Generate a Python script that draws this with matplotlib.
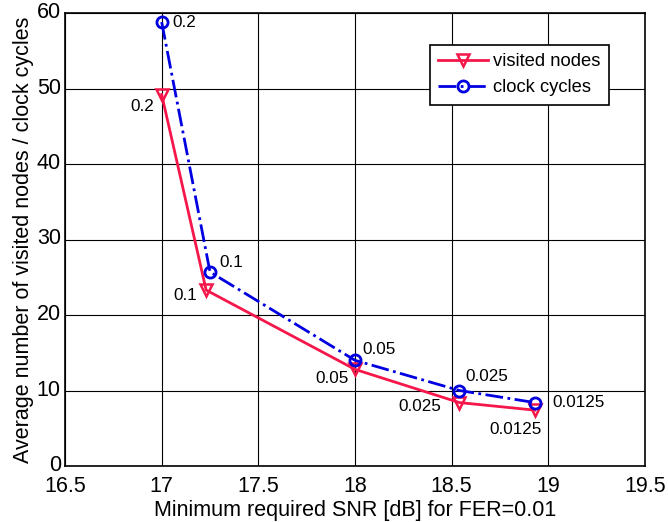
import matplotlib
matplotlib.use("Agg")
import matplotlib.pyplot as plt
from matplotlib.transforms import ScaledTranslation

plt.rcParams['font.family'] = ['Liberation Sans', 'DejaVu Sans']

snr_nodes = [17.0, 17.23, 18.0, 18.54, 18.93]
visited_nodes = [49.2, 23.3, 12.8, 8.4, 7.4]
snr_cycles = [17.0, 17.25, 18.0, 18.54, 18.93]
clock_cycles = [58.8, 25.7, 14.0, 10.0, 8.4]
labels = ["0.2", "0.1", "0.05", "0.025", "0.0125"]

red = '#f5174a'
blue = '#0000e0'

fig = plt.figure(figsize=(6.68, 5.22), dpi=100)
ax = fig.add_axes([65/668, 1-466/522, 580/668, 453/522])

ax.plot(snr_nodes, visited_nodes, color=red, lw=2, marker='v', ms=9,
        mfc='none', mec=red, mew=1.8, label='visited nodes')
ax.plot(snr_cycles, clock_cycles, color=blue, lw=2, ls='-.', marker='o', ms=8,
        mfc='none', mec=blue, mew=2, label='clock cycles')

node_offsets = [(-8, -12, 'right'), (-9, -5, 'right'), (-6, -9, 'right'), (-18, -4, 'right'), (-19, -19, 'center')]
cycle_offsets = [(11, 0, 'left'), (9, 9, 'left'), (7, 11, 'left'), (6, 14, 'left'), (18, 0, 'left')]
for x, y, t, (dx, dy, ha) in zip(snr_nodes, visited_nodes, labels, node_offsets):
    ax.annotate(t, (x, y), xytext=(dx, dy), textcoords='offset pixels',
                ha=ha, va='center', fontsize=12.3)
for x, y, t, (dx, dy, ha) in zip(snr_cycles, clock_cycles, labels, cycle_offsets):
    ax.annotate(t, (x, y), xytext=(dx, dy), textcoords='offset pixels',
                ha=ha, va='center', fontsize=12.3)

ax.set_xlim(16.5, 19.5)
ax.set_ylim(0, 60)
ax.set_xticks([16.5, 17, 17.5, 18, 18.5, 19, 19.5])
ax.set_xticklabels(['16.5', '17', '17.5', '18', '18.5', '19', '19.5'])
ax.set_yticks([0, 10, 20, 30, 40, 50, 60])
ax.grid(True, color='black', lw=0.8)
ax.tick_params(labelsize=15.5, direction='in', length=0)
ax.tick_params(axis='x', pad=7.5)
ax.tick_params(axis='y', pad=3)
for lab in ax.get_yticklabels():
    lab.set_transform(lab.get_transform() + ScaledTranslation(0, 3/100, fig.dpi_scale_trans))
for s in ax.spines.values():
    s.set_linewidth(1.2)
ax.set_xlabel('Minimum required SNR [dB] for FER=0.01', fontsize=15.5, labelpad=2)
ax.set_ylabel('Average number of visited nodes / clock cycles', fontsize=15.5, labelpad=2)

leg = ax.legend(loc='upper right', bbox_to_anchor=(544/580, 421/453), fontsize=13.2,
                fancybox=False, framealpha=1, edgecolor='black', handlelength=2.7,
                handletextpad=0.3, borderpad=0.45, labelspacing=0.5, borderaxespad=0)
leg.get_frame().set_linewidth(1.2)

fig.savefig('out.png', dpi=100)
